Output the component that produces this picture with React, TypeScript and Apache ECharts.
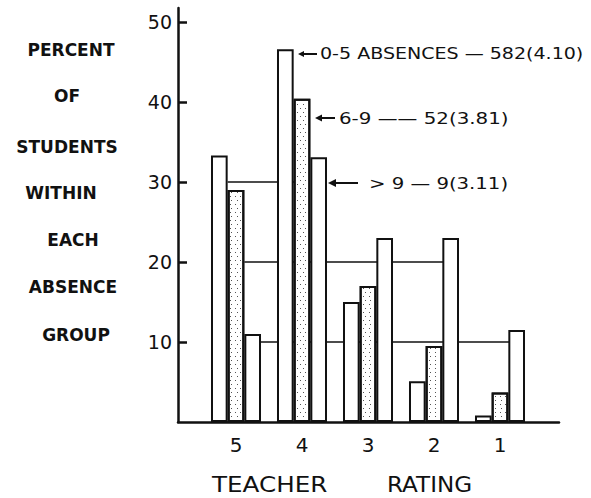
import React, { useEffect, useRef } from "react";
import * as echarts from "echarts";

// ---- data ----
const categories = ["5", "4", "3", "2", "1"];
const absences0to5 = [33.3, 46.6, 15.0, 5.1, 0.8];
const absences6to9 = [29.0, 40.4, 17.0, 9.5, 3.7];
const absencesOver9 = [11.0, 33.1, 23.0, 23.0, 11.5];
const yTicks = [10, 20, 30, 40, 50];
// reference segments: [fromCategory, fromBar, toCategory, toBar, value]
const refSegments = [
  [0, 0, 1, 1, 30],
  [0, 1, 3, 2, 20],
  [0, 2, 4, 2, 10],
];
const titleLines = ["PERCENT", "OF", "STUDENTS", "WITHIN", "EACH", "ABSENCE", "GROUP"];
const legendTexts = ["0-5 ABSENCES — 582(4.10)", "6-9 —— 52(3.81)", "> 9 — 9(3.11)"];

const FONT = "DejaVu Sans";
const INK = "#111";
const BAR_W = 16.67;

export default function App() {
  const ref = useRef<HTMLDivElement>(null);
  useEffect(() => {
    document.body.style.margin = "0";
    const chart = echarts.init(ref.current!, null, { renderer: "svg" });

    const titleX = [71, 67, 67, 61, 73, 73, 76];
    const titleY = [50, 96, 147, 193, 240, 287, 335];
    const titleGraphics = titleLines.map((t, i) => ({
      type: "text",
      x: titleX[i],
      y: titleY[i],
      style: {
        text: t,
        font: `bold 17px "${FONT}"`,
        fill: INK,
        align: "center",
        verticalAlign: "middle",
      },
    }));

    const arrows = [
      { tip: 298, tail: 317, y: 54, head: 5, tx: 320, sx: 1.19 },
      { tip: 315, tail: 335, y: 118, head: 6, tx: 339, sx: 1.24 },
      { tip: 328, tail: 358, y: 183, head: 7, tx: 369, sx: 1.23 },
    ];
    const arrowGraphics: any[] = [];
    arrows.forEach((a, i) => {
      arrowGraphics.push({
        type: "line",
        shape: { x1: a.tip + a.head - 1, y1: a.y, x2: a.tail, y2: a.y },
        style: { stroke: INK, lineWidth: 2 },
      });
      arrowGraphics.push({
        type: "polygon",
        shape: {
          points: [
            [a.tip, a.y],
            [a.tip + a.head + 1, a.y - a.head / 2 - 0.5],
            [a.tip + a.head + 1, a.y + a.head / 2 + 0.5],
          ],
        },
        style: { fill: INK },
      });
      arrowGraphics.push({
        type: "text",
        x: a.tx,
        y: a.y,
        scaleX: a.sx,
        style: {
          text: legendTexts[i],
          font: `16px "${FONT}"`,
          fill: INK,
          align: "left",
          verticalAlign: "middle",
        },
      });
    });

    const barBase = {
      type: "bar",
      xAxisIndex: 1,
      yAxisIndex: 1,
      barWidth: BAR_W,
      barGap: "0%",
      z: 3,
    };

    chart.setOption({
      animation: false,
      backgroundColor: "#fff",
      grid: [
        { left: 178, right: 32, top: 8, bottom: 76 },
        { left: 203, right: 58, top: 8, bottom: 76 },
      ],
      xAxis: [
        {
          type: "value",
          gridIndex: 0,
          min: 0,
          max: 1,
          axisLine: { show: true, lineStyle: { color: INK, width: 2.5 } },
          axisTick: { show: false },
          axisLabel: { show: false },
          splitLine: { show: false },
        },
        {
          type: "category",
          gridIndex: 1,
          data: categories,
          axisLine: { show: false },
          axisTick: { show: false },
          axisLabel: {
            fontSize: 20,
            fontFamily: FONT,
            color: INK,
            margin: 13,
          },
        },
      ],
      yAxis: [
        {
          type: "value",
          gridIndex: 0,
          min: 0,
          max: 51.75,
          axisLine: { show: true, lineStyle: { color: INK, width: 2.5 } },
          axisTick: {
            show: true,
            inside: true,
            length: 9,
            lineStyle: { color: INK, width: 2.5 },
            customValues: yTicks,
          },
          axisLabel: {
            fontSize: 19,
            fontFamily: FONT,
            color: INK,
            margin: 6,
            customValues: yTicks,
          },
          splitLine: { show: false },
        },
        {
          type: "value",
          gridIndex: 1,
          min: 0,
          max: 51.75,
          show: false,
          splitLine: { show: false },
        },
      ],
      series: [
        {
          type: "custom",
          xAxisIndex: 1,
          yAxisIndex: 1,
          z: 1,
          encode: { x: 0, y: 4 },
          data: refSegments,
          renderItem: (params: any, api: any) => {
            const fromCat = api.value(0);
            const fromBar = api.value(1);
            const toCat = api.value(2);
            const toBar = api.value(3);
            const v = api.value(4);
            const p0 = api.coord([fromCat, v]);
            const p1 = api.coord([toCat, v]);
            const x0 = p0[0] + (fromBar - 1) * BAR_W + BAR_W / 2;
            const x1 = p1[0] + (toBar - 1) * BAR_W;
            return {
              type: "line",
              shape: { x1: x0, y1: p0[1], x2: x1, y2: p1[1] },
              style: { stroke: INK, lineWidth: 1.5 },
            };
          },
        },
        {
          ...barBase,
          name: "0-5",
          data: absences0to5,
          itemStyle: { color: "#fff", borderColor: INK, borderWidth: 2 },
        },
        {
          ...barBase,
          name: "6-9",
          data: absences6to9,
          itemStyle: {
            color: "#fff",
            borderColor: INK,
            borderWidth: 2,
            decal: {
              symbol: "rect",
              symbolSize: 1,
              color: "#555",
              dashArrayX: [
                [1, 4],
                [0, 2.5, 1, 1.5],
              ],
              dashArrayY: [1, 2.5],
              rotation: 0,
            },
          },
        },
        {
          ...barBase,
          name: ">9",
          data: absencesOver9,
          itemStyle: { color: "#fff", borderColor: INK, borderWidth: 2 },
        },
      ],
      graphic: [
        ...titleGraphics,
        ...arrowGraphics,
        {
          type: "text",
          x: 212,
          y: 484,
          scaleX: 1.12,
          style: {
            text: "TEACHER",
            font: `22px "${FONT}"`,
            fill: INK,
            align: "left",
            verticalAlign: "middle",
          },
        },
        {
          type: "text",
          x: 387,
          y: 484,
          scaleX: 1.05,
          style: {
            text: "RATING",
            font: `22px "${FONT}"`,
            fill: INK,
            align: "left",
            verticalAlign: "middle",
          },
        },
      ],
    });
    return () => chart.dispose();
  }, []);
  return (
    <div
      ref={ref}
      style={{ position: "fixed", left: 0, top: 0, width: 591, height: 498 }}
    />
  );
}
